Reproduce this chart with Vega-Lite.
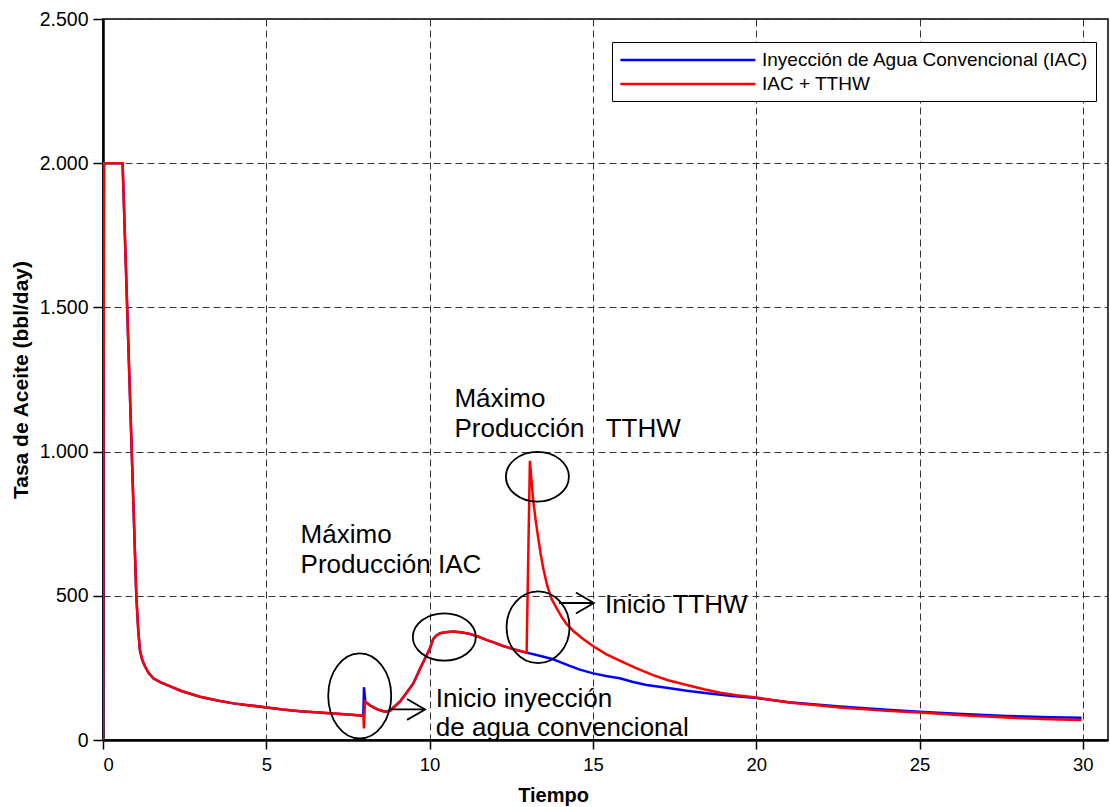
{
  "$schema": "https://vega.github.io/schema/vega-lite/v6.json",
  "width": 1005,
  "height": 721,
  "autosize": {"type": "none"},
  "padding": {"left": 103, "top": 19, "right": 2, "bottom": 67},
  "background": "white",
  "config": {
    "view": {"stroke": "black", "strokeWidth": 1.5},
    "locale": {"number": {"decimal": ",", "thousands": ".", "grouping": [3], "currency": ["", ""]}},
    "font": "Liberation Sans"
  },
  "datasets": {
    "series": [
      {"serie": "Inyección de Agua Convencional (IAC)", "tiempo": 0, "tasa": 0},
      {"serie": "Inyección de Agua Convencional (IAC)", "tiempo": 0.03, "tasa": 2000},
      {"serie": "Inyección de Agua Convencional (IAC)", "tiempo": 0.6, "tasa": 2000},
      {"serie": "Inyección de Agua Convencional (IAC)", "tiempo": 1.02, "tasa": 500},
      {"serie": "Inyección de Agua Convencional (IAC)", "tiempo": 1.08, "tasa": 380},
      {"serie": "Inyección de Agua Convencional (IAC)", "tiempo": 1.13, "tasa": 312},
      {"serie": "Inyección de Agua Convencional (IAC)", "tiempo": 1.2, "tasa": 278},
      {"serie": "Inyección de Agua Convencional (IAC)", "tiempo": 1.29, "tasa": 254},
      {"serie": "Inyección de Agua Convencional (IAC)", "tiempo": 1.4, "tasa": 232},
      {"serie": "Inyección de Agua Convencional (IAC)", "tiempo": 1.54, "tasa": 214},
      {"serie": "Inyección de Agua Convencional (IAC)", "tiempo": 1.75, "tasa": 201},
      {"serie": "Inyección de Agua Convencional (IAC)", "tiempo": 1.95, "tasa": 191},
      {"serie": "Inyección de Agua Convencional (IAC)", "tiempo": 2.4, "tasa": 170},
      {"serie": "Inyección de Agua Convencional (IAC)", "tiempo": 2.97, "tasa": 150},
      {"serie": "Inyección de Agua Convencional (IAC)", "tiempo": 3.5, "tasa": 137},
      {"serie": "Inyección de Agua Convencional (IAC)", "tiempo": 3.99, "tasa": 127},
      {"serie": "Inyección de Agua Convencional (IAC)", "tiempo": 4.5, "tasa": 120},
      {"serie": "Inyección de Agua Convencional (IAC)", "tiempo": 5.01, "tasa": 113},
      {"serie": "Inyección de Agua Convencional (IAC)", "tiempo": 5.5, "tasa": 106},
      {"serie": "Inyección de Agua Convencional (IAC)", "tiempo": 6.03, "tasa": 100},
      {"serie": "Inyección de Agua Convencional (IAC)", "tiempo": 6.5, "tasa": 96},
      {"serie": "Inyección de Agua Convencional (IAC)", "tiempo": 7.05, "tasa": 92},
      {"serie": "Inyección de Agua Convencional (IAC)", "tiempo": 7.5, "tasa": 88},
      {"serie": "Inyección de Agua Convencional (IAC)", "tiempo": 7.97, "tasa": 84},
      {"serie": "Inyección de Agua Convencional (IAC)", "tiempo": 7.99, "tasa": 183},
      {"serie": "Inyección de Agua Convencional (IAC)", "tiempo": 8.03, "tasa": 133},
      {"serie": "Inyección de Agua Convencional (IAC)", "tiempo": 8.2, "tasa": 118},
      {"serie": "Inyección de Agua Convencional (IAC)", "tiempo": 8.4, "tasa": 106},
      {"serie": "Inyección de Agua Convencional (IAC)", "tiempo": 8.58, "tasa": 100},
      {"serie": "Inyección de Agua Convencional (IAC)", "tiempo": 8.68, "tasa": 98},
      {"serie": "Inyección de Agua Convencional (IAC)", "tiempo": 8.8, "tasa": 103},
      {"serie": "Inyección de Agua Convencional (IAC)", "tiempo": 9.09, "tasa": 133},
      {"serie": "Inyección de Agua Convencional (IAC)", "tiempo": 9.3, "tasa": 165},
      {"serie": "Inyección de Agua Convencional (IAC)", "tiempo": 9.5, "tasa": 196},
      {"serie": "Inyección de Agua Convencional (IAC)", "tiempo": 9.7, "tasa": 245},
      {"serie": "Inyección de Agua Convencional (IAC)", "tiempo": 9.9, "tasa": 292},
      {"serie": "Inyección de Agua Convencional (IAC)", "tiempo": 10.0, "tasa": 315},
      {"serie": "Inyección de Agua Convencional (IAC)", "tiempo": 10.11, "tasa": 350},
      {"serie": "Inyección de Agua Convencional (IAC)", "tiempo": 10.2, "tasa": 362},
      {"serie": "Inyección de Agua Convencional (IAC)", "tiempo": 10.32, "tasa": 370},
      {"serie": "Inyección de Agua Convencional (IAC)", "tiempo": 10.5, "tasa": 374},
      {"serie": "Inyección de Agua Convencional (IAC)", "tiempo": 10.72, "tasa": 376},
      {"serie": "Inyección de Agua Convencional (IAC)", "tiempo": 11.0, "tasa": 373},
      {"serie": "Inyección de Agua Convencional (IAC)", "tiempo": 11.23, "tasa": 368},
      {"serie": "Inyección de Agua Convencional (IAC)", "tiempo": 11.5, "tasa": 358},
      {"serie": "Inyección de Agua Convencional (IAC)", "tiempo": 11.74, "tasa": 347},
      {"serie": "Inyección de Agua Convencional (IAC)", "tiempo": 12.0, "tasa": 337},
      {"serie": "Inyección de Agua Convencional (IAC)", "tiempo": 12.25, "tasa": 326},
      {"serie": "Inyección de Agua Convencional (IAC)", "tiempo": 12.6, "tasa": 314},
      {"serie": "Inyección de Agua Convencional (IAC)", "tiempo": 12.97, "tasa": 303},
      {"serie": "Inyección de Agua Convencional (IAC)", "tiempo": 13.4, "tasa": 291},
      {"serie": "Inyección de Agua Convencional (IAC)", "tiempo": 13.78, "tasa": 280},
      {"serie": "Inyección de Agua Convencional (IAC)", "tiempo": 14.0, "tasa": 270},
      {"serie": "Inyección de Agua Convencional (IAC)", "tiempo": 14.29, "tasa": 257},
      {"serie": "Inyección de Agua Convencional (IAC)", "tiempo": 14.6, "tasa": 244},
      {"serie": "Inyección de Agua Convencional (IAC)", "tiempo": 15.01, "tasa": 231},
      {"serie": "Inyección de Agua Convencional (IAC)", "tiempo": 15.4, "tasa": 222},
      {"serie": "Inyección de Agua Convencional (IAC)", "tiempo": 15.82, "tasa": 214},
      {"serie": "Inyección de Agua Convencional (IAC)", "tiempo": 16.2, "tasa": 202},
      {"serie": "Inyección de Agua Convencional (IAC)", "tiempo": 16.64, "tasa": 191},
      {"serie": "Inyección de Agua Convencional (IAC)", "tiempo": 17.2, "tasa": 182},
      {"serie": "Inyección de Agua Convencional (IAC)", "tiempo": 17.87, "tasa": 171},
      {"serie": "Inyección de Agua Convencional (IAC)", "tiempo": 18.5, "tasa": 162},
      {"serie": "Inyección de Agua Convencional (IAC)", "tiempo": 19.2, "tasa": 153},
      {"serie": "Inyección de Agua Convencional (IAC)", "tiempo": 20.0, "tasa": 146},
      {"serie": "Inyección de Agua Convencional (IAC)", "tiempo": 21.0, "tasa": 131},
      {"serie": "Inyección de Agua Convencional (IAC)", "tiempo": 22.56, "tasa": 116},
      {"serie": "Inyección de Agua Convencional (IAC)", "tiempo": 24.0, "tasa": 105},
      {"serie": "Inyección de Agua Convencional (IAC)", "tiempo": 24.99, "tasa": 98},
      {"serie": "Inyección de Agua Convencional (IAC)", "tiempo": 26.3, "tasa": 90},
      {"serie": "Inyección de Agua Convencional (IAC)", "tiempo": 27.66, "tasa": 83},
      {"serie": "Inyección de Agua Convencional (IAC)", "tiempo": 29.0, "tasa": 79},
      {"serie": "Inyección de Agua Convencional (IAC)", "tiempo": 29.96, "tasa": 77},
      {"serie": "IAC + TTHW", "tiempo": 0, "tasa": 0},
      {"serie": "IAC + TTHW", "tiempo": 0.03, "tasa": 2000},
      {"serie": "IAC + TTHW", "tiempo": 0.6, "tasa": 2000},
      {"serie": "IAC + TTHW", "tiempo": 1.02, "tasa": 500},
      {"serie": "IAC + TTHW", "tiempo": 1.08, "tasa": 380},
      {"serie": "IAC + TTHW", "tiempo": 1.13, "tasa": 312},
      {"serie": "IAC + TTHW", "tiempo": 1.2, "tasa": 278},
      {"serie": "IAC + TTHW", "tiempo": 1.29, "tasa": 254},
      {"serie": "IAC + TTHW", "tiempo": 1.4, "tasa": 232},
      {"serie": "IAC + TTHW", "tiempo": 1.54, "tasa": 214},
      {"serie": "IAC + TTHW", "tiempo": 1.75, "tasa": 201},
      {"serie": "IAC + TTHW", "tiempo": 1.95, "tasa": 191},
      {"serie": "IAC + TTHW", "tiempo": 2.4, "tasa": 170},
      {"serie": "IAC + TTHW", "tiempo": 2.97, "tasa": 150},
      {"serie": "IAC + TTHW", "tiempo": 3.5, "tasa": 137},
      {"serie": "IAC + TTHW", "tiempo": 3.99, "tasa": 127},
      {"serie": "IAC + TTHW", "tiempo": 4.5, "tasa": 120},
      {"serie": "IAC + TTHW", "tiempo": 5.01, "tasa": 113},
      {"serie": "IAC + TTHW", "tiempo": 5.5, "tasa": 106},
      {"serie": "IAC + TTHW", "tiempo": 6.03, "tasa": 100},
      {"serie": "IAC + TTHW", "tiempo": 6.5, "tasa": 96},
      {"serie": "IAC + TTHW", "tiempo": 7.05, "tasa": 92},
      {"serie": "IAC + TTHW", "tiempo": 7.5, "tasa": 88},
      {"serie": "IAC + TTHW", "tiempo": 7.97, "tasa": 84},
      {"serie": "IAC + TTHW", "tiempo": 7.99, "tasa": 40},
      {"serie": "IAC + TTHW", "tiempo": 8.02, "tasa": 133},
      {"serie": "IAC + TTHW", "tiempo": 8.2, "tasa": 118},
      {"serie": "IAC + TTHW", "tiempo": 8.4, "tasa": 106},
      {"serie": "IAC + TTHW", "tiempo": 8.58, "tasa": 100},
      {"serie": "IAC + TTHW", "tiempo": 8.68, "tasa": 98},
      {"serie": "IAC + TTHW", "tiempo": 8.8, "tasa": 103},
      {"serie": "IAC + TTHW", "tiempo": 9.09, "tasa": 133},
      {"serie": "IAC + TTHW", "tiempo": 9.3, "tasa": 165},
      {"serie": "IAC + TTHW", "tiempo": 9.5, "tasa": 196},
      {"serie": "IAC + TTHW", "tiempo": 9.7, "tasa": 245},
      {"serie": "IAC + TTHW", "tiempo": 9.9, "tasa": 292},
      {"serie": "IAC + TTHW", "tiempo": 10.0, "tasa": 315},
      {"serie": "IAC + TTHW", "tiempo": 10.11, "tasa": 350},
      {"serie": "IAC + TTHW", "tiempo": 10.2, "tasa": 362},
      {"serie": "IAC + TTHW", "tiempo": 10.32, "tasa": 370},
      {"serie": "IAC + TTHW", "tiempo": 10.5, "tasa": 374},
      {"serie": "IAC + TTHW", "tiempo": 10.72, "tasa": 376},
      {"serie": "IAC + TTHW", "tiempo": 11.0, "tasa": 373},
      {"serie": "IAC + TTHW", "tiempo": 11.23, "tasa": 368},
      {"serie": "IAC + TTHW", "tiempo": 11.5, "tasa": 358},
      {"serie": "IAC + TTHW", "tiempo": 11.74, "tasa": 347},
      {"serie": "IAC + TTHW", "tiempo": 12.0, "tasa": 337},
      {"serie": "IAC + TTHW", "tiempo": 12.25, "tasa": 326},
      {"serie": "IAC + TTHW", "tiempo": 12.6, "tasa": 314},
      {"serie": "IAC + TTHW", "tiempo": 12.97, "tasa": 303},
      {"serie": "IAC + TTHW", "tiempo": 13.07, "tasa": 968},
      {"serie": "IAC + TTHW", "tiempo": 13.17, "tasa": 832},
      {"serie": "IAC + TTHW", "tiempo": 13.25, "tasa": 760},
      {"serie": "IAC + TTHW", "tiempo": 13.33, "tasa": 697},
      {"serie": "IAC + TTHW", "tiempo": 13.4, "tasa": 645},
      {"serie": "IAC + TTHW", "tiempo": 13.48, "tasa": 595},
      {"serie": "IAC + TTHW", "tiempo": 13.6, "tasa": 535},
      {"serie": "IAC + TTHW", "tiempo": 13.73, "tasa": 490},
      {"serie": "IAC + TTHW", "tiempo": 13.9, "tasa": 455},
      {"serie": "IAC + TTHW", "tiempo": 14.05, "tasa": 425},
      {"serie": "IAC + TTHW", "tiempo": 14.19, "tasa": 402},
      {"serie": "IAC + TTHW", "tiempo": 14.4, "tasa": 378},
      {"serie": "IAC + TTHW", "tiempo": 14.7, "tasa": 350},
      {"serie": "IAC + TTHW", "tiempo": 15.01, "tasa": 325},
      {"serie": "IAC + TTHW", "tiempo": 15.4, "tasa": 298},
      {"serie": "IAC + TTHW", "tiempo": 15.82, "tasa": 275},
      {"serie": "IAC + TTHW", "tiempo": 16.3, "tasa": 250},
      {"serie": "IAC + TTHW", "tiempo": 16.84, "tasa": 225},
      {"serie": "IAC + TTHW", "tiempo": 17.3, "tasa": 207},
      {"serie": "IAC + TTHW", "tiempo": 17.87, "tasa": 191},
      {"serie": "IAC + TTHW", "tiempo": 18.4, "tasa": 176},
      {"serie": "IAC + TTHW", "tiempo": 18.89, "tasa": 164},
      {"serie": "IAC + TTHW", "tiempo": 19.4, "tasa": 155},
      {"serie": "IAC + TTHW", "tiempo": 20.0, "tasa": 147},
      {"serie": "IAC + TTHW", "tiempo": 21.0, "tasa": 130},
      {"serie": "IAC + TTHW", "tiempo": 22.56, "tasa": 113},
      {"serie": "IAC + TTHW", "tiempo": 24.0, "tasa": 101},
      {"serie": "IAC + TTHW", "tiempo": 24.99, "tasa": 95},
      {"serie": "IAC + TTHW", "tiempo": 26.3, "tasa": 86},
      {"serie": "IAC + TTHW", "tiempo": 27.66, "tasa": 78},
      {"serie": "IAC + TTHW", "tiempo": 29.0, "tasa": 72},
      {"serie": "IAC + TTHW", "tiempo": 29.96, "tasa": 69}
    ],
    "ellipses": [
      {"nota": "Inicio inyección", "x": 7.86, "y": 153},
      {"nota": "Máximo IAC", "x": 10.45, "y": 357},
      {"nota": "Máximo TTHW", "x": 13.3, "y": 913},
      {"nota": "Inicio TTHW", "x": 13.32, "y": 391}
    ],
    "arrows": [
      {"nota": "Inicio inyección", "x1": 8.78, "x2": 9.86, "y": 106},
      {"nota": "Inicio TTHW", "x1": 13.96, "x2": 15.03, "y": 475}
    ],
    "notes": [
      {"texto": "Máximo", "x": 6.05, "y": 683},
      {"texto": "Producción IAC", "x": 6.05, "y": 579},
      {"texto": "Máximo", "x": 10.76, "y": 1155},
      {"texto": "Producción\u00a0\u00a0 TTHW", "x": 10.76, "y": 1051},
      {"texto": "Inicio TTHW", "x": 15.37, "y": 439},
      {"texto": "Inicio inyección", "x": 10.19, "y": 115},
      {"texto": "de agua convencional", "x": 10.19, "y": 14}
    ]
  },
  "layer": [
    {
      "data": {"name": "series"},
      "transform": [{"filter": "datum.serie === 'Inyección de Agua Convencional (IAC)'"}],
      "mark": {"type": "line", "strokeWidth": 2.5, "clip": true},
      "encoding": {
        "x": {
          "field": "tiempo", "type": "quantitative",
          "scale": {"domain": [0, 30.77], "nice": false, "zero": false},
          "axis": {
            "title": "Tiempo", "values": [0, 5, 10, 15, 20, 25, 30],
            "grid": true, "gridDash": [7, 4], "gridColor": "#333333", "gridWidth": 1, "gridOpacity": 1,
            "domainColor": "black", "domainWidth": 2.5,
            "tickColor": "black", "tickSize": 9, "tickWidth": 1.5,
            "labelFont": "Liberation Sans", "labelFontSize": 18.5, "labelColor": "black", "labelPadding": 6,
            "titleFont": "Liberation Sans", "titleFontSize": 20, "titleFontWeight": "bold", "titleColor": "black",
            "titleX": 450, "titleY": 61, "titleBaseline": "alphabetic", "titleAnchor": "middle"
          }
        },
        "y": {
          "field": "tasa", "type": "quantitative",
          "scale": {"domain": [0, 2500], "nice": false},
          "axis": {
            "title": "Tasa de Aceite (bbl/day)", "values": [0, 500, 1000, 1500, 2000, 2500], "format": ",d",
            "grid": true, "gridDash": [7, 4], "gridColor": "#333333", "gridWidth": 1, "gridOpacity": 1,
            "domainColor": "black", "domainWidth": 2.5,
            "tickColor": "black", "tickSize": 10, "tickWidth": 1.5,
            "labelFont": "Liberation Sans", "labelFontSize": 19.5, "labelColor": "black", "labelPadding": 5,
            "titleFont": "Liberation Sans", "titleFontSize": 21, "titleFontWeight": "bold", "titleColor": "black",
            "titlePadding": 8
          }
        },
        "color": {
          "field": "serie", "type": "nominal",
          "scale": {"domain": ["Inyección de Agua Convencional (IAC)", "IAC + TTHW"], "range": ["#0000ff", "#ff0000"]},
          "legend": {
            "title": null, "orient": "none", "legendX": 509, "legendY": 23,
            "symbolType": "M -1 0 L 13 0", "symbolSize": 372, "symbolStrokeWidth": 2.5,
            "labelFont": "Liberation Sans", "labelFontSize": 19, "labelColor": "black", "labelLimit": 600,
            "labelOffset": 121,
            "strokeColor": "black", "fillColor": "white", "padding": 7, "rowPadding": 3, "cornerRadius": 0
          }
        }
      }
    },
    {
      "data": {"name": "series"},
      "transform": [{"filter": "datum.serie === 'IAC + TTHW'"}],
      "mark": {"type": "line", "strokeWidth": 2.5, "clip": true},
      "encoding": {
        "x": {"field": "tiempo", "type": "quantitative"},
        "y": {"field": "tasa", "type": "quantitative"},
        "color": {"field": "serie", "type": "nominal"}
      }
    },
    {
      "data": {"name": "ellipses"},
      "mark": {"type": "point", "filled": false, "color": "black", "strokeWidth": 1.8, "size": 3969, "opacity": 1},
      "encoding": {
        "x": {"field": "x", "type": "quantitative"},
        "y": {"field": "y", "type": "quantitative"},
        "shape": {
          "field": "nota", "type": "nominal", "legend": null,
          "scale": {
            "domain": ["Inicio inyección", "Máximo IAC", "Máximo TTHW", "Inicio TTHW"],
            "range": [
              "M -1 0 A 1 1.35 0 1 0 1 0 A 1 1.35 0 1 0 -1 0 Z",
              "M -1 0 A 1 0.75 0 1 0 1 0 A 1 0.75 0 1 0 -1 0 Z",
              "M -1 0 A 1 0.79 0 1 0 1 0 A 1 0.79 0 1 0 -1 0 Z",
              "M -1 0 A 1 1.14 0 1 0 1 0 A 1 1.14 0 1 0 -1 0 Z"
            ]
          }
        }
      }
    },
    {
      "data": {"name": "arrows"},
      "mark": {"type": "rule", "color": "black", "strokeWidth": 1.8},
      "encoding": {
        "x": {"field": "x1", "type": "quantitative"},
        "x2": {"field": "x2"},
        "y": {"field": "y", "type": "quantitative"}
      }
    },
    {
      "data": {"name": "arrows"},
      "mark": {"type": "point", "filled": false, "color": "black", "strokeWidth": 1.8, "size": 1296, "opacity": 1, "shape": "M -1 -0.58 L 0 0 L -1 0.58"},
      "encoding": {
        "x": {"field": "x2", "type": "quantitative"},
        "y": {"field": "y", "type": "quantitative"}
      }
    },
    {
      "data": {"name": "notes"},
      "mark": {"type": "text", "align": "left", "baseline": "alphabetic", "font": "Liberation Sans", "fontSize": 26, "color": "black"},
      "encoding": {
        "x": {"field": "x", "type": "quantitative"},
        "y": {"field": "y", "type": "quantitative"},
        "text": {"field": "texto"}
      }
    }
  ]
}
